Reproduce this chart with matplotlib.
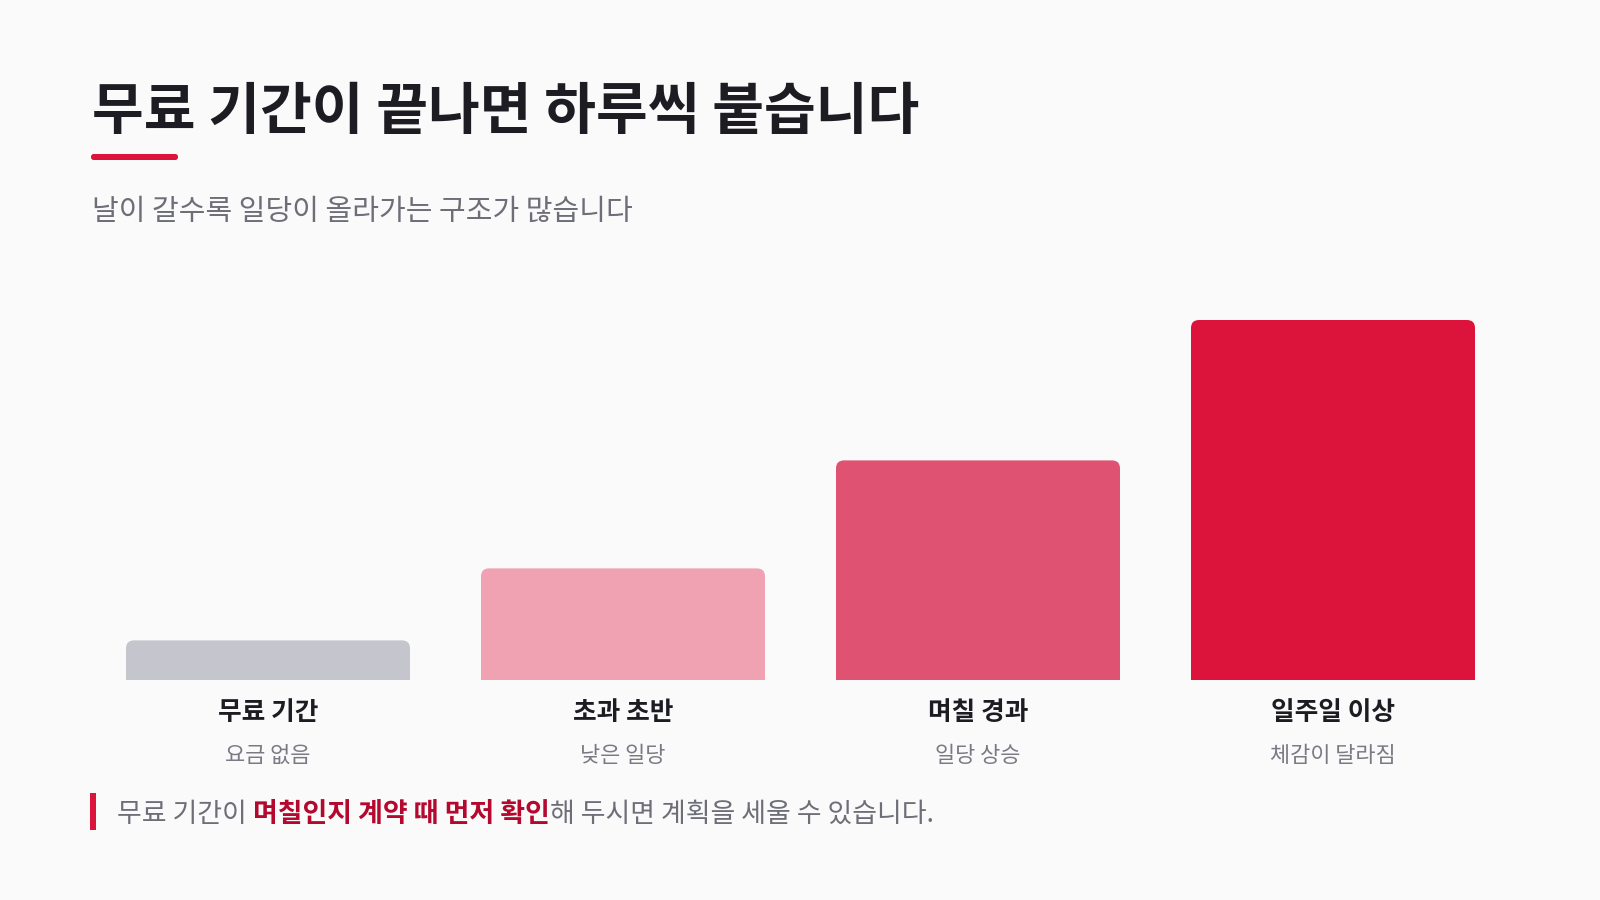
import matplotlib
matplotlib.use("Agg")
import matplotlib.pyplot as plt
from matplotlib.patches import FancyBboxPatch, Rectangle

plt.rcParams['font.family'] = ['Noto Sans CJK KR', 'DejaVu Sans']

# ---- data ----
categories = ["무료 기간", "초과 초반", "며칠 경과", "일주일 이상"]
sublabels = ["요금 없음", "낮은 일당", "일당 상승", "체감이 달라짐"]
values = [11, 31, 61, 100]
bar_colors = ["#c5c5cd", "#f0a1b2", "#e05272", "#dc143c"]

title = "무료 기간이 끝나면 하루씩 붙습니다"
subtitle = "날이 갈수록 일당이 올라가는 구조가 많습니다"
note_parts = [("무료 기간이 ", False), ("며칠인지 계약 때 먼저 확인", True),
              ("해 두시면 계획을 세울 수 있습니다.", False)]

BG = "#fafafa"
W, H = 1600, 900
fig = plt.figure(figsize=(16, 9), dpi=100, facecolor=BG)

def fx(px):
    return px / W

def fy(py):
    return 1 - py / H

# title
fig.text(fx(92), fy(129), title, fontsize=40.5, fontweight='bold', color="#1c1c22",
         ha='left', va='baseline')
# underline accent
fig.patches.append(FancyBboxPatch((fx(91), fy(160)), fx(87), 6 / H,
                                  boxstyle="round,pad=0,rounding_size=0.0017",
                                  mutation_aspect=16 / 9,
                                  transform=fig.transFigure, facecolor="#dc143c",
                                  edgecolor='none'))
# subtitle
fig.text(fx(92), fy(212), subtitle, fontsize=20.9, color="#6e6e78", ha='left', va='center')

# axes for bars
ax_left, ax_right = 90.5, 1510.5
ax_bottom, ax_top = 680, 320
ax = fig.add_axes([fx(ax_left), fy(ax_bottom), fx(ax_right - ax_left), (ax_bottom - ax_top) / H])
ax.set_facecolor('none')
ax.set_xlim(-0.5, len(categories) - 0.5)
ax.set_ylim(0, 100)
ax.axis('off')

bw = 0.8
px_per_x = (ax_right - ax_left) / len(categories)
px_per_y = (ax_bottom - ax_top) / 100
r_px = 8
for i, (v, c) in enumerate(zip(values, bar_colors)):
    x0 = i - bw / 2
    p = FancyBboxPatch((x0, 0), bw, v,
                       boxstyle=f"round,pad=0,rounding_size={r_px / px_per_x}",
                       mutation_aspect=px_per_x / px_per_y,
                       facecolor=c, edgecolor='none', clip_on=False)
    ax.add_patch(p)
    ax.add_patch(Rectangle((x0, 0), bw, v / 2, facecolor=c, edgecolor='none', clip_on=False))
    cx = ax_left + (i + 0.5) * px_per_x
    fig.text(fx(cx), fy(712), categories[i], fontsize=18.5, fontweight='bold',
             color="#1c1c22", ha='center', va='center')
    fig.text(fx(cx), fy(756), sublabels[i], fontsize=15.8, color="#7a7a84",
             ha='center', va='center')

# footnote
fig.patches.append(Rectangle((fx(90), fy(830)), fx(6), 37 / H, transform=fig.transFigure,
                             facecolor="#dc143c", edgecolor='none'))
fig.canvas.draw()
renderer = fig.canvas.get_renderer()
xpos = 117
for txt, bold in note_parts:
    t = fig.text(fx(xpos), fy(814), txt, fontsize=19.4,
                 fontweight='bold' if bold else 'normal',
                 color="#b5082e" if bold else "#6e6e78", ha='left', va='center')
    bb = t.get_window_extent(renderer=renderer)
    xpos += bb.width

fig.savefig("out.png", dpi=100, facecolor=BG)
